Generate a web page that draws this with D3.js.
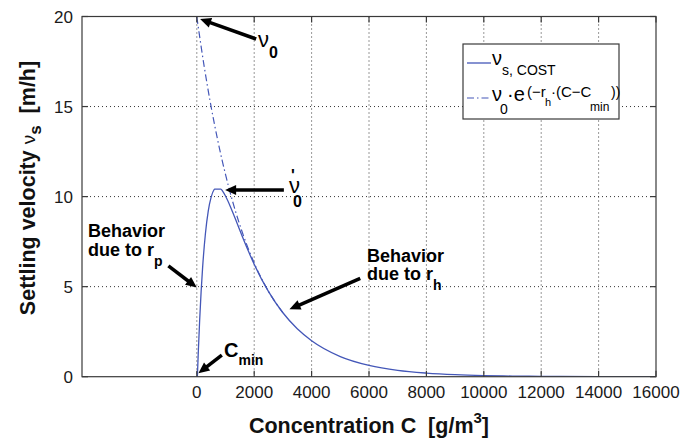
<!DOCTYPE html>
<html>
<head>
<meta charset="utf-8">
<script src="https://cdn.jsdelivr.net/npm/d3@7"></script>
<style>
  html, body { margin: 0; padding: 0; background: #fff; }
  svg { display: block; font-family: "Liberation Sans", Arial, Helvetica, sans-serif; }
</style>
</head>
<body>
<svg id="chart" width="697" height="439"></svg>
<script>
// Settling velocity model (solid curve)
const concentration = [20, 50, 100, 150, 200, 300, 400, 500, 600, 620, 700, 840, 900, 1000, 1200,
  1400, 1600, 1800, 2000, 2500, 3000, 3500, 4000, 5000, 6000, 7000, 8000, 9000, 10000, 11000,
  12000, 14000, 16000];
const settlingVelocity = [0, 1.29, 3.15, 4.71, 6.00, 7.94, 9.21, 9.97, 10.38, 10.42, 10.42, 10.42, 10.30, 10.03, 9.33,
  8.54, 7.73, 6.96, 6.24, 4.72, 3.55, 2.66, 2.00, 1.12, 0.63, 0.35, 0.20, 0.11, 0.06, 0.035,
  0.02, 0.006, 0.002];

// Hindered-settling exponential (dash-dot curve)
const expConcentration = [0, 250, 500, 750, 1000, 1250, 1500, 1750, 2000, 2500, 3000];
const expVelocity = [19.98, 17.30, 14.98, 12.97, 11.23, 9.72, 8.42, 7.29, 6.31, 4.73, 3.55];

// Axis ticks
const xTicks = [0, 2000, 4000, 6000, 8000, 10000, 12000, 14000, 16000];
const yTicks = [0, 5, 10, 15, 20];

const xDomain = [-4000, 16000];
const yDomain = [0, 20];

const plot = { left: 82, right: 656, top: 16.5, bottom: 376.7 };
const blue = "#4457b8";
const NB = "\u00a0";

const svg = d3.select("#chart");
const x = d3.scaleLinear().domain(xDomain).range([plot.left, plot.right]);
const y = d3.scaleLinear().domain(yDomain).range([plot.bottom, plot.top]);

svg.append("defs").append("clipPath").attr("id", "plotClip")
  .append("rect")
  .attr("x", plot.left).attr("y", plot.top)
  .attr("width", plot.right - plot.left).attr("height", plot.bottom - plot.top);

// Dotted grid
const grid = svg.append("g").attr("stroke", "#333").attr("stroke-width", 1)
  .attr("stroke-dasharray", "1,3");
grid.selectAll("line.vx").data(xTicks.filter(t => t < xDomain[1])).join("line")
  .attr("x1", d => x(d)).attr("x2", d => x(d))
  .attr("y1", plot.top).attr("y2", plot.bottom);
grid.selectAll("line.hy").data(yTicks.filter(t => t > yDomain[0] && t < yDomain[1])).join("line")
  .attr("x1", plot.left).attr("x2", plot.right)
  .attr("y1", d => y(d)).attr("y2", d => y(d));

// Curves
const curveG = svg.append("g").attr("clip-path", "url(#plotClip)").attr("fill", "none");
const mainPts = concentration.map((c, i) => [c, settlingVelocity[i]]);
const expPts = expConcentration.map((c, i) => [c, expVelocity[i]]);
const line = d3.line().x(d => x(d[0])).y(d => y(d[1])).curve(d3.curveMonotoneX);

curveG.append("path").datum(mainPts).attr("d", line)
  .attr("stroke", blue).attr("stroke-width", 1.3);
curveG.append("path").datum(expPts).attr("d", line)
  .attr("stroke", blue).attr("stroke-width", 1.2).attr("stroke-dasharray", "7,3,1.5,3");

// Frame
svg.append("rect")
  .attr("x", plot.left).attr("y", plot.top)
  .attr("width", plot.right - plot.left).attr("height", plot.bottom - plot.top)
  .attr("fill", "none").attr("stroke", "#3a3a3a").attr("stroke-width", 1.2);

// Inward ticks on all four sides
const tickLen = 6;
const ticks = svg.append("g").attr("stroke", "#3a3a3a").attr("stroke-width", 1.2);
xTicks.forEach(t => {
  ticks.append("line").attr("x1", x(t)).attr("x2", x(t)).attr("y1", plot.bottom).attr("y2", plot.bottom - tickLen);
  ticks.append("line").attr("x1", x(t)).attr("x2", x(t)).attr("y1", plot.top).attr("y2", plot.top + tickLen);
});
yTicks.forEach(t => {
  ticks.append("line").attr("x1", plot.left).attr("x2", plot.left + tickLen).attr("y1", y(t)).attr("y2", y(t));
  ticks.append("line").attr("x1", plot.right).attr("x2", plot.right - tickLen).attr("y1", y(t)).attr("y2", y(t));
});

// Tick labels
svg.append("g").selectAll("text").data(xTicks).join("text")
  .attr("x", d => x(d)).attr("y", 398)
  .attr("text-anchor", "middle").attr("font-size", 17).attr("fill", "#1a1a1a")
  .text(d => d);
svg.append("g").selectAll("text").data(yTicks).join("text")
  .attr("x", 73).attr("y", d => y(d)).attr("dy", "0.36em")
  .attr("text-anchor", "end").attr("font-size", 17).attr("fill", "#1a1a1a")
  .text(d => d);

// Axis titles
const xt = svg.append("text").attr("x", 369).attr("y", 433)
  .attr("text-anchor", "middle").attr("font-size", 21.5).attr("font-weight", "bold").attr("fill", "#111");
xt.append("tspan").text("Concentration C" + NB + NB + "[g/m");
xt.append("tspan").attr("font-size", 15).attr("dy", -10).text("3");
xt.append("tspan").attr("dy", 10).text("]");

const yt = svg.append("text").attr("transform", "translate(35,188) rotate(-90)")
  .attr("text-anchor", "middle").attr("font-size", 21.5).attr("font-weight", "bold").attr("fill", "#111");
yt.append("tspan").text("Settling velocity" + NB);
yt.append("tspan").attr("font-weight", "normal").attr("font-size", 19).text("ν");
yt.append("tspan").attr("font-size", 17).attr("dy", 6).text("s");
yt.append("tspan").attr("dy", -6).text(NB + NB + "[m/h]");

// Rich text helper: parts are {t, size, x?, dy?, w?}
function richText(parent, tx, ty, parts, baseWeight) {
  const el = parent.append("text").attr("x", tx).attr("y", ty).attr("fill", "#000")
    .attr("font-weight", baseWeight || "normal");
  parts.forEach(p => {
    const s = el.append("tspan").attr("font-size", p.size).attr("dy", p.dy || 0).text(p.t);
    if (p.x !== undefined) s.attr("x", p.x);
    if (p.w) s.attr("font-weight", p.w);
  });
  return el;
}

// Legend
const lg = svg.append("g");
lg.append("rect").attr("x", 463).attr("y", 44).attr("width", 156).attr("height", 75)
  .attr("fill", "#fff").attr("stroke", "#3a3a3a").attr("stroke-width", 1.2);
lg.append("line").attr("x1", 467).attr("x2", 491).attr("y1", 63).attr("y2", 63)
  .attr("stroke", blue).attr("stroke-width", 1.3);
lg.append("line").attr("x1", 467).attr("x2", 491).attr("y1", 98).attr("y2", 98)
  .attr("stroke", blue).attr("stroke-width", 1.2).attr("stroke-dasharray", "7,3,1.5,3");
richText(lg, 492, 65, [{ t: "ν", size: 20 }, { t: "s, COST", size: 14, dy: 10 }]);
richText(lg, 492, 101, [
  { t: "ν", size: 20 },
  { t: "0", size: 14, x: 500, dy: 13 },
  { t: "·e", size: 20, x: 507, dy: -13 },
  { t: "(−r", size: 15, x: 527, dy: -4 },
  { t: "h", size: 11, x: 545, dy: 9 },
  { t: "·(C−C", size: 15, x: 551, dy: -9 },
  { t: "min", size: 12, x: 590, dy: 14 },
  { t: "))", size: 14, x: 611, dy: -14 }
]);

// Annotation arrows (tail -> tip, in data units)
const arrows = [
  { from: [2068, 18.75], to: [115, 19.86] },   // v0
  { from: [3034, 10.37], to: [987, 10.37] },   // v0'
  { from: [-990, 6.15], to: [0, 4.95] },       // r_p behaviour
  { from: [872, 1.2], to: [56, 0.19] },        // C_min
  { from: [5695, 5.46], to: [3229, 3.74] }     // r_h behaviour
];
const ann = svg.append("g");
arrows.forEach(a => {
  const x1 = x(a.from[0]), y1 = y(a.from[1]);
  const x2 = x(a.to[0]), y2 = y(a.to[1]);
  const len = Math.hypot(x2 - x1, y2 - y1);
  const ux = (x2 - x1) / len, uy = (y2 - y1) / len;
  const hl = 11, hw = 5;
  const bx = x2 - ux * hl, by = y2 - uy * hl;
  ann.append("line").attr("x1", x1).attr("y1", y1).attr("x2", bx + ux).attr("y2", by + uy)
    .attr("stroke", "#000").attr("stroke-width", 3.5);
  ann.append("path")
    .attr("d", `M${x2},${y2}L${bx - uy * hw},${by + ux * hw}L${bx + uy * hw},${by - ux * hw}Z`)
    .attr("fill", "#000");
});

// v0
richText(ann, 258, 47, [{ t: "ν", size: 22, w: "normal" }, { t: "0", size: 16, dy: 11, w: "bold" }]);
// v0'
richText(ann, 289, 193, [
  { t: "ν", size: 22, w: "normal" },
  { t: "'", size: 16, x: 291, dy: -12, w: "bold" },
  { t: "0", size: 16, x: 293, dy: 26, w: "bold" }
]);
// r_p
richText(ann, 88, 237, [
  { t: "Behavior", size: 18 },
  { t: "due to r", size: 18, x: 88, dy: 19 },
  { t: "p", size: 14, dy: 10 }
], "bold");
// r_h
richText(ann, 367, 262, [
  { t: "Behavior", size: 18 },
  { t: "due to r", size: 18, x: 367, dy: 18 },
  { t: "h", size: 14, dy: 10 }
], "bold");
// C_min
richText(ann, 224, 357, [{ t: "C", size: 20 }, { t: "min", size: 14, dy: 8 }], "bold");
</script>
</body>
</html>
